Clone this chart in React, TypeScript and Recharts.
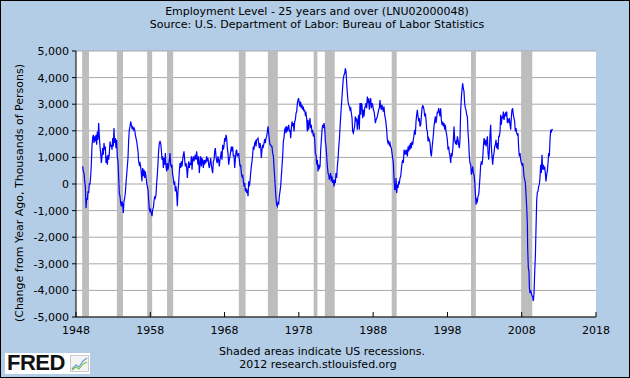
import { LineChart, Line, XAxis, YAxis, CartesianGrid, ReferenceArea } from 'recharts'

const yearTicks = [1948, 1958, 1968, 1978, 1988, 1998, 2008, 2018]
const valueTicks = [-5000, -4000, -3000, -2000, -1000, 0, 1000, 2000, 3000, 4000, 5000]

// NBER recessions (decimal years)
const recessionStarts = [1948.83, 1953.5, 1957.58, 1960.25, 1969.92, 1973.83, 1980.0, 1981.5, 1990.5, 2001.17, 2007.92]
const recessionEnds = [1949.75, 1954.33, 1958.25, 1961.08, 1970.83, 1975.17, 1980.5, 1982.83, 1991.17, 2001.83, 2009.42]

// [date, change from year ago (thousands)]
const obs1949to1958: [number, number][] = [
  [1948.9, 660], [1948.99, 475], [1949.08, 410], [1949.17, 100], [1949.26, -90], [1949.35, -900], [1949.44, -525],
  [1949.53, -590], [1949.62, -275], [1949.71, -340], [1949.8, 40], [1949.88, -25], [1949.97, 290], [1950.06, 725],
  [1950.15, 1410], [1950.24, 1725], [1950.33, 1850], [1950.42, 1540], [1950.51, 1790], [1950.6, 1600], [1950.69, 1850],
  [1950.78, 1475], [1950.87, 1975], [1950.96, 1660], [1951.05, 2290], [1951.14, 1790], [1951.23, 1410], [1951.32, 1160],
  [1951.41, 790], [1951.5, 1040], [1951.59, 1350], [1951.68, 1100], [1951.77, 1540], [1951.86, 1290], [1951.95, 1410],
  [1952.04, 790], [1952.13, 1040], [1952.22, 725], [1952.31, 1100], [1952.4, 910], [1952.49, 1160], [1952.58, 1600],
  [1952.67, 1410], [1952.76, 1475], [1952.85, 1290], [1952.94, 1725], [1953.03, 1410], [1953.11, 2100], [1953.2, 1540],
  [1953.29, 1725], [1953.38, 1350], [1953.47, 1660], [1953.56, 1040], [1953.65, 850], [1953.74, 290], [1953.83, -340],
  [1953.92, -460], [1954.01, -710], [1954.1, -840], [1954.19, -650], [1954.28, -775], [1954.37, -1090], [1954.46, -650],
  [1954.55, -525], [1954.64, -340], [1954.73, 40], [1954.82, 350], [1954.91, 660], [1955.0, 975], [1955.09, 1660],
  [1955.18, 2040], [1955.27, 2165], [1955.36, 2350], [1955.45, 2225], [1955.54, 2100], [1955.63, 2140], [1955.72, 2040],
  [1955.81, 2100], [1955.9, 2040], [1955.99, 1850], [1956.08, 1725], [1956.17, 1600], [1956.26, 1410], [1956.35, 1225],
  [1956.43, 850], [1956.52, 725], [1956.61, 790], [1956.7, 660], [1956.79, 410], [1956.88, 100], [1956.97, 600],
  [1957.06, 290], [1957.15, 540], [1957.24, 225], [1957.33, 475], [1957.42, 290], [1957.51, 40], [1957.6, -90],
  [1957.69, -215], [1957.78, -590], [1957.87, -960], [1957.96, -1025], [1958.05, -960], [1958.14, -1090], [1958.23, -1210],
  [1958.32, -960], [1958.41, -900], [1958.5, -650], [1958.59, -460], [1958.68, -525],
]

const obs1958to1969: [number, number][] = [
  [1958.77, -400], [1958.86, 40], [1958.95, 350], [1959.04, 790], [1959.13, 1290], [1959.22, 1540], [1959.31, 1600],
  [1959.4, 1540], [1959.49, 1290], [1959.58, 910], [1959.67, 1040], [1959.76, 600], [1959.85, 975], [1959.94, 725],
  [1960.03, 1160], [1960.12, 660], [1960.21, 475], [1960.3, 790], [1960.39, 540], [1960.48, 725], [1960.57, 910],
  [1960.65, 1160], [1960.74, 725], [1960.83, 660], [1960.92, 725], [1961.01, 350], [1961.1, 225], [1961.19, -25],
  [1961.28, 100], [1961.37, -275], [1961.46, -90], [1961.55, -340], [1961.64, -840], [1961.73, -275], [1961.82, 40],
  [1961.91, 475], [1962.0, 790], [1962.09, 600], [1962.18, 850], [1962.27, 660], [1962.36, 910], [1962.45, 1100],
  [1962.54, 1225], [1962.63, 910], [1962.72, 660], [1962.81, 790], [1962.9, 600], [1962.99, 225], [1963.08, 600],
  [1963.17, 850], [1963.26, 600], [1963.35, 790], [1963.44, 725], [1963.53, 1040], [1963.62, 540], [1963.7, 910],
  [1963.79, 1040], [1963.88, 850], [1963.97, 975], [1964.06, 1100], [1964.15, 910], [1964.24, 1225], [1964.33, 975],
  [1964.42, 725], [1964.51, 1040], [1964.6, 410], [1964.69, 790], [1964.78, 1040], [1964.87, 660], [1964.96, 975],
  [1965.05, 850], [1965.14, 600], [1965.23, 910], [1965.32, 725], [1965.41, 910], [1965.5, 790], [1965.59, 1040],
  [1965.68, 910], [1965.77, 975], [1965.86, 725], [1965.95, 600], [1966.04, 790], [1966.13, 975], [1966.22, 725],
  [1966.31, 540], [1966.4, 410], [1966.49, 850], [1966.58, 910], [1966.67, 1225], [1966.76, 1350], [1966.85, 1040],
  [1966.94, 850], [1967.02, 790], [1967.11, 1040], [1967.2, 910], [1967.29, 660], [1967.38, 910], [1967.47, 1040],
  [1967.56, 1225], [1967.65, 910], [1967.74, 1475], [1967.83, 1290], [1967.92, 1410], [1968.01, 1725], [1968.1, 1600],
  [1968.19, 1850], [1968.28, 1725], [1968.37, 1350], [1968.46, 1160], [1968.55, 725], [1968.64, 910], [1968.73, 1040],
  [1968.82, 1225], [1968.91, 1410], [1969.0, 1225], [1969.09, 1410], [1969.18, 1040], [1969.27, 1100], [1969.36, 600],
  [1969.45, 910],
]

const obs1969to1980: [number, number][] = [
  [1969.54, 1225], [1969.63, 1290], [1969.72, 1040], [1969.9, 1160], [1969.99, 910], [1970.08, 660], [1970.17, 725],
  [1970.26, 410], [1970.35, 290], [1970.44, 350], [1970.53, 100], [1970.62, -90], [1970.71, 40], [1970.8, -275],
  [1970.89, -150], [1970.98, -340], [1971.07, -215], [1971.16, -460], [1971.25, 100], [1971.34, -90], [1971.42, 100],
  [1971.51, 410], [1971.6, 660], [1971.69, 850], [1971.78, 1100], [1971.87, 1410], [1971.96, 1290], [1972.05, 1540],
  [1972.14, 1600], [1972.23, 1410], [1972.32, 1660], [1972.41, 1690], [1972.5, 1725], [1972.59, 1540], [1972.68, 1350],
  [1972.77, 1540], [1972.86, 1410], [1972.95, 975], [1973.04, 1290], [1973.13, 1475], [1973.22, 1410], [1973.31, 1540],
  [1973.4, 1690], [1973.49, 1540], [1973.58, 1725], [1973.67, 1790], [1973.76, 1975], [1973.85, 2165], [1973.94, 1910],
  [1974.03, 1660], [1974.12, 1475], [1974.21, 1475], [1974.29, 1410], [1974.38, 1410], [1974.47, 1160], [1974.57, 1040],
  [1974.65, 660], [1974.74, 290], [1974.83, -150], [1974.92, -525], [1975.01, -775], [1975.1, -840], [1975.19, -710],
  [1975.28, -775], [1975.37, -460], [1975.46, -275], [1975.55, -90], [1975.64, 290], [1975.73, 660], [1975.82, 1040],
  [1975.91, 1600], [1976.0, 1725], [1976.09, 2040], [1976.18, 2100], [1976.27, 1910], [1976.36, 2165], [1976.45, 1975],
  [1976.54, 2100], [1976.63, 2225], [1976.72, 1975], [1976.81, 2040], [1976.9, 1725], [1976.99, 2100], [1977.08, 2350],
  [1977.17, 2225], [1977.26, 2290], [1977.35, 1975], [1977.44, 2350], [1977.53, 2410], [1977.62, 2660], [1977.71, 2725],
  [1977.8, 3040], [1977.89, 3160], [1977.97, 3225], [1978.06, 3040], [1978.15, 2910], [1978.24, 3100], [1978.33, 2850],
  [1978.42, 2975], [1978.51, 2790], [1978.6, 2910], [1978.69, 2725], [1978.78, 2790], [1978.87, 2600], [1978.96, 2660],
  [1979.05, 2475], [1979.14, 1975], [1979.23, 2410], [1979.32, 2040], [1979.41, 2290], [1979.5, 2475], [1979.59, 2100],
  [1979.68, 2225], [1979.77, 1910], [1979.86, 2040], [1979.95, 1790], [1980.04, 1910], [1980.13, 1660], [1980.22, 1160],
]

const obs1980to1991: [number, number][] = [
  [1980.31, 1100], [1980.4, 725], [1980.49, 910], [1980.58, 475], [1980.67, 725], [1980.76, 600], [1980.85, 660],
  [1980.94, 1290], [1981.03, 1660], [1981.12, 2040], [1981.21, 2225], [1981.3, 2100], [1981.39, 2290], [1981.48, 2100],
  [1981.57, 1600], [1981.66, 1410], [1981.75, 1040], [1981.84, 660], [1981.93, 410], [1982.02, 350], [1982.1, 160],
  [1982.19, 290], [1982.28, 410], [1982.37, 100], [1982.46, 290], [1982.55, 40], [1982.64, 160], [1982.73, -90],
  [1982.82, 100], [1982.91, 40], [1983.0, 410], [1983.09, 225], [1983.18, 660], [1983.27, 910], [1983.36, 1350],
  [1983.45, 1660], [1983.54, 2100], [1983.63, 2540], [1983.72, 2910], [1983.81, 3290], [1983.9, 3660], [1983.99, 3975],
  [1984.08, 4100], [1984.17, 4160], [1984.26, 4350], [1984.35, 4225], [1984.44, 3790], [1984.53, 3410], [1984.62, 3100],
  [1984.71, 2975], [1984.8, 2910], [1984.89, 2790], [1984.98, 2850], [1985.07, 2660], [1985.16, 2475], [1985.24, 1975],
  [1985.33, 1910], [1985.42, 2040], [1985.51, 2165], [1985.6, 2540], [1985.69, 2410], [1985.78, 2475], [1985.87, 2040],
  [1985.96, 2350], [1986.05, 2600], [1986.14, 2040], [1986.23, 3040], [1986.32, 2600], [1986.41, 3040], [1986.5, 2975],
  [1986.59, 2475], [1986.68, 2790], [1986.77, 2540], [1986.86, 2850], [1986.95, 2910], [1987.04, 3040], [1987.13, 2850],
  [1987.22, 3290], [1987.31, 3040], [1987.4, 3225], [1987.49, 2790], [1987.58, 3100], [1987.67, 3225], [1987.76, 2850],
  [1987.85, 3040], [1987.94, 2975], [1988.03, 2790], [1988.12, 2725], [1988.21, 2540], [1988.3, 2290], [1988.39, 2410],
  [1988.48, 2475], [1988.57, 2540], [1988.66, 2660], [1988.74, 2790], [1988.83, 2850], [1988.92, 3160], [1989.01, 2910],
  [1989.1, 2790], [1989.19, 2975], [1989.28, 2850], [1989.37, 2725], [1989.46, 2910], [1989.55, 2600], [1989.64, 2475],
  [1989.73, 2290], [1989.82, 2040], [1989.91, 1660], [1990.0, 1540], [1990.09, 1600], [1990.18, 1475], [1990.27, 1540],
  [1990.36, 1410], [1990.45, 1350], [1990.54, 1160], [1990.63, 975], [1990.72, 790], [1990.81, 225], [1990.9, -215],
  [1990.99, -215],
]

const obs1991to2001: [number, number][] = [
  [1991.08, 225], [1991.17, -340], [1991.26, -25], [1991.35, -150], [1991.44, 100], [1991.53, 40], [1991.62, 225],
  [1991.71, 290], [1991.8, 540], [1991.89, 790], [1991.98, 910], [1992.07, 790], [1992.16, 1290], [1992.25, 1160],
  [1992.34, 1225], [1992.43, 1100], [1992.52, 1290], [1992.61, 1040], [1992.7, 1410], [1992.79, 1225], [1992.88, 1475],
  [1992.96, 1290], [1993.05, 1540], [1993.14, 1350], [1993.23, 1600], [1993.32, 1475], [1993.41, 1660], [1993.5, 1850],
  [1993.59, 2040], [1993.68, 1850], [1993.77, 2350], [1993.86, 2600], [1993.95, 2790], [1994.04, 2540], [1994.13, 2350],
  [1994.22, 2475], [1994.31, 2165], [1994.4, 2225], [1994.49, 2540], [1994.58, 2850], [1994.67, 2940], [1994.76, 2910],
  [1994.85, 2790], [1994.94, 2540], [1995.03, 2660], [1995.12, 2410], [1995.21, 2040], [1995.3, 1975], [1995.39, 1600],
  [1995.48, 1725], [1995.57, 1660], [1995.66, 1540], [1995.75, 1160], [1995.84, 1040], [1995.93, 1350], [1996.02, 1600],
  [1996.11, 1850], [1996.19, 2165], [1996.28, 2350], [1996.37, 2540], [1996.46, 2290], [1996.55, 2475], [1996.64, 2725],
  [1996.73, 2660], [1996.82, 2850], [1996.91, 2725], [1997.0, 2540], [1997.09, 2850], [1997.18, 2410], [1997.27, 2225],
  [1997.36, 2350], [1997.45, 2165], [1997.54, 2290], [1997.63, 2040], [1997.72, 2225], [1997.81, 1975], [1997.9, 1850],
  [1997.99, 1660], [1998.08, 1290], [1998.17, 1410], [1998.26, 1160], [1998.35, 1040], [1998.44, 790], [1998.53, 1160],
  [1998.62, 1040], [1998.71, 1290], [1998.8, 1660], [1998.89, 2165], [1998.98, 1660], [1999.07, 1540], [1999.16, 1600],
  [1999.25, 1475], [1999.34, 1790], [1999.43, 1660], [1999.51, 1475], [1999.6, 1350], [1999.69, 1660], [1999.78, 2725],
  [1999.87, 3225], [1999.96, 3540], [2000.05, 3790], [2000.14, 3600], [2000.23, 3475], [2000.32, 3040], [2000.41, 2850],
  [2000.5, 2790], [2000.59, 2600], [2000.68, 2540], [2000.77, 1975], [2000.86, 1600], [2000.95, 1040], [2001.04, 790],
  [2001.13, 725], [2001.22, 350], [2001.31, 475], [2001.4, 660], [2001.49, 410], [2001.58, 350], [2001.67, 100],
  [2001.76, -340],
]

const obs2001to2012: [number, number][] = [
  [2001.85, -775], [2001.94, -590], [2002.03, -650], [2002.12, -460], [2002.21, -400], [2002.3, -90], [2002.39, 290],
  [2002.48, 725], [2002.57, 850], [2002.66, 725], [2002.75, 975], [2002.84, 1410], [2002.93, 1725], [2003.02, 1475],
  [2003.11, 1660], [2003.2, 1410], [2003.29, 1600], [2003.38, 1790], [2003.47, 1160], [2003.56, 910], [2003.65, 1290],
  [2003.73, 1850], [2003.82, 2225], [2003.91, 1410], [2004.0, 1040], [2004.09, 725], [2004.18, 1040], [2004.27, 1160],
  [2004.36, 1410], [2004.45, 1475], [2004.54, 1660], [2004.63, 1350], [2004.72, 1540], [2004.81, 1290], [2004.9, 1790],
  [2004.99, 1790], [2005.08, 1975], [2005.17, 2600], [2005.26, 2225], [2005.35, 2540], [2005.44, 2475], [2005.53, 2725],
  [2005.62, 2410], [2005.71, 2600], [2005.8, 2660], [2005.89, 2540], [2005.98, 2725], [2006.07, 2290], [2006.16, 2410],
  [2006.25, 2350], [2006.34, 2475], [2006.43, 2225], [2006.52, 2040], [2006.61, 2540], [2006.69, 2790], [2006.78, 2850],
  [2006.87, 2600], [2006.96, 2475], [2007.05, 2350], [2007.14, 1975], [2007.23, 2100], [2007.32, 1910], [2007.41, 1850],
  [2007.5, 1910], [2007.59, 1350], [2007.68, 1040], [2007.77, 1160], [2007.86, 910], [2007.95, 790], [2008.04, 725],
  [2008.13, 790], [2008.22, 600], [2008.31, 290], [2008.4, 160], [2008.49, 40], [2008.58, -400], [2008.67, -850],
  [2008.76, -1500], [2008.8, -2400], [2008.89, -3150], [2008.98, -3300], [2009.03, -3900], [2009.12, -4100],
  [2009.21, -4000], [2009.3, -4100], [2009.39, -4200], [2009.48, -4250], [2009.57, -4400], [2009.66, -4100],
  [2009.75, -3300], [2009.84, -2700], [2009.93, -1600], [2010.02, -600], [2010.11, -300], [2010.19, -275], [2010.28, -90],
  [2010.37, -25], [2010.46, 225], [2010.55, 725], [2010.64, 410], [2010.73, 1100], [2010.82, 540], [2010.91, 725],
  [2011.0, 540], [2011.09, 660], [2011.18, 410], [2011.27, 100], [2011.36, 350], [2011.45, 475], [2011.54, 790],
  [2011.63, 1160], [2011.72, 1040], [2011.81, 1660], [2011.9, 2040], [2011.99, 1975], [2012.08, 2040], [2012.17, 2060],
]

const data = [
  ...obs1949to1958,
  ...obs1958to1969,
  ...obs1969to1980,
  ...obs1980to1991,
  ...obs1991to2001,
  ...obs2001to2012,
].map(([date, change]) => ({ date, change }))

const font = '"DejaVu Sans", Verdana, sans-serif'
const tickStyle = { fontSize: 11, fill: '#000', fontFamily: font }

function FredLogo() {
  return (
    <div
      style={{
        position: 'absolute',
        left: 5,
        top: 353,
        width: 85,
        height: 21,
        background: '#fff',
      }}
    >
      <span
        style={{
          position: 'absolute',
          left: 2,
          top: -3,
          fontFamily: '"Liberation Sans", Arial, sans-serif',
          fontWeight: 900,
          fontSize: 22,
          letterSpacing: -0.5,
          color: '#111',
        }}
      >
        FRED
      </span>
      <svg width={19} height={17} style={{ position: 'absolute', left: 65, top: 2 }}>
        <rect x={0.5} y={0.5} width={18} height={16} fill="#f4f4f4" stroke="#ccc" />
        <polyline points="2,14 6,10 9,12 13,6 17,3" fill="none" stroke="#6a9fd8" strokeWidth={1.2} />
        <polyline points="2,15 6,12 9,14 13,9 17,7" fill="none" stroke="#7cc24a" strokeWidth={1.2} />
      </svg>
    </div>
  )
}

export default function App() {
  return (
    <div
      style={{
        position: 'absolute',
        left: 0,
        top: 0,
        width: 630,
        height: 378,
        background: '#b3cde6',
        fontFamily: font,
        fontSize: 11,
        color: '#000',
        overflow: 'hidden',
      }}
    >
      <div style={{ position: 'absolute', left: 2, top: 5, width: 630, textAlign: 'center', lineHeight: '13px' }}>
        Employment Level - 25 years and over (LNU02000048)
      </div>
      <div style={{ position: 'absolute', left: 2, top: 18, width: 630, textAlign: 'center', lineHeight: '13px' }}>
        Source: U.S. Department of Labor: Bureau of Labor Statistics
      </div>

      <div
        style={{
          position: 'absolute',
          left: 19,
          top: 193,
          transform: 'translate(-50%, -50%) rotate(-90deg)',
          whiteSpace: 'nowrap',
          lineHeight: '13px',
        }}
      >
        (Change from Year Ago, Thousands of Persons)
      </div>

      <div style={{ position: 'absolute', left: 0, top: 0 }}>
        <LineChart width={630} height={378} data={data} margin={{ top: 51, right: 34, bottom: 0, left: 0 }}>
          <CartesianGrid vertical={false} stroke="#a8a8a8" strokeWidth={1} fill="#ffffff" fillOpacity={1} />
          {recessionStarts.map((start, i) => (
            <ReferenceArea
              key={start}
              x1={start}
              x2={recessionEnds[i]}
              fill="#bdbdbd"
              fillOpacity={1}
              stroke="none"
              ifOverflow="hidden"
            />
          ))}
          <XAxis
            dataKey="date"
            type="number"
            domain={[1948, 2018]}
            ticks={yearTicks}
            allowDataOverflow
            height={61}
            tick={tickStyle}
            tickSize={-5}
            tickMargin={14}
            axisLine={{ stroke: '#000' }}
            tickLine={{ stroke: '#000' }}
          />
          <YAxis
            type="number"
            domain={[-5000, 5000]}
            ticks={valueTicks}
            width={76}
            tick={tickStyle}
            tickSize={4}
            tickMargin={3}
            tickFormatter={(v: number) => v.toLocaleString('en-US')}
            axisLine={{ stroke: '#000' }}
            tickLine={{ stroke: '#000' }}
          />
          <Line
            type="linear"
            dataKey="change"
            stroke="#0000ff"
            strokeWidth={1.2}
            dot={false}
            isAnimationActive={false}
          />
        </LineChart>
      </div>

      <div style={{ position: 'absolute', left: 7, top: 345, width: 630, textAlign: 'center', lineHeight: '13px' }}>
        Shaded areas indicate US recessions.
      </div>
      <div style={{ position: 'absolute', left: 3, top: 358, width: 630, textAlign: 'center', lineHeight: '13px' }}>
        2012 research.stlouisfed.org
      </div>

      <FredLogo />

      <div
        style={{
          position: 'absolute',
          left: 0,
          top: 0,
          width: 630,
          height: 378,
          boxSizing: 'border-box',
          border: '1px solid #000',
          pointerEvents: 'none',
        }}
      />
    </div>
  )
}
